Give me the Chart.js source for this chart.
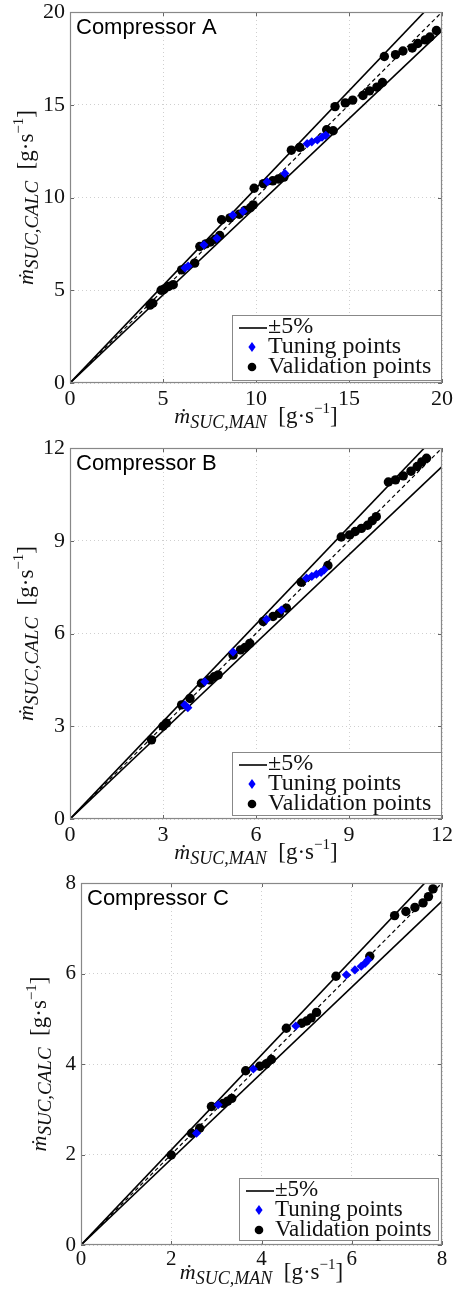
<!DOCTYPE html>
<html>
<head>
<meta charset="utf-8">
<script src="https://cdn.jsdelivr.net/npm/chart.js@4.4.0/dist/chart.umd.min.js"></script>
<style>
  html, body { margin: 0; padding: 0; background: #fff; }
  #wrap { position: relative; width: 453px; height: 1292px; overflow: hidden; }
  canvas { position: absolute; left: 0; }
</style>
</head>
<body>
<div id="wrap">
  <canvas id="chartA" width="453" height="440" style="top:0"></canvas>
  <canvas id="chartB" width="453" height="445" style="top:430px"></canvas>
  <canvas id="chartC" width="453" height="430" style="top:862px"></canvas>
</div>
<script>
// Compressor A  (measured vs calculated suction mass flow, g/s)
const valAx = [4.3, 4.45, 4.9, 5.05, 5.3, 5.55, 6.0, 6.7, 6.98, 7.3, 7.55, 7.8, 8.05, 8.15, 8.6, 9.1, 9.4, 9.7, 9.85, 9.9, 10.4, 10.9, 11.2, 11.5, 11.9, 12.35, 13.8, 14.15, 14.25, 14.8, 15.2, 15.75, 16.1, 16.5, 16.8, 16.9, 17.5, 17.9, 18.4, 18.7, 19.1, 19.35, 19.7];
const valAy = [4.2, 4.3, 5.0, 5.05, 5.2, 5.3, 6.1, 6.46, 7.36, 7.5, 7.6, 7.75, 7.95, 8.8, 8.9, 9.1, 9.3, 9.45, 9.6, 10.5, 10.75, 10.9, 11.0, 11.1, 12.55, 12.7, 13.65, 13.6, 14.9, 15.1, 15.25, 15.5, 15.75, 15.95, 16.2, 17.6, 17.7, 17.9, 18.06, 18.3, 18.5, 18.65, 19.0];
const tunAx = [6.18, 6.35, 7.2, 7.9, 8.75, 9.3, 10.6, 11.55, 12.75, 13.0, 13.3, 13.55, 13.75];
const tunAy = [6.2, 6.3, 7.45, 7.8, 9.05, 9.25, 10.85, 11.3, 12.9, 13.0, 13.1, 13.25, 13.35];

// Compressor B
const valBx = [2.63, 3.0, 3.11, 3.6, 3.87, 4.24, 4.5, 4.65, 4.78, 5.26, 5.5, 5.65, 5.8, 6.23, 6.55, 6.75, 6.98, 7.46, 8.32, 8.75, 9.02, 9.2, 9.4, 9.6, 9.75, 9.88, 10.27, 10.5, 10.75, 11.0, 11.2, 11.35, 11.5];
const valBy = [2.56, 3.0, 3.1, 3.69, 3.9, 4.39, 4.5, 4.6, 4.66, 5.3, 5.47, 5.55, 5.68, 6.39, 6.55, 6.65, 6.82, 7.66, 8.2, 9.12, 9.19, 9.3, 9.4, 9.5, 9.65, 9.78, 10.9, 10.97, 11.1, 11.25, 11.4, 11.55, 11.67];
const tunBx = [3.7, 3.8, 4.35, 5.26, 6.34, 6.82, 7.63, 7.8, 7.95, 8.1, 8.2];
const tunBy = [3.69, 3.6, 4.44, 5.4, 6.46, 6.76, 7.79, 7.85, 7.92, 7.98, 8.06];

// Compressor C
const valCx = [2.0, 2.45, 2.63, 2.89, 3.15, 3.25, 3.34, 3.65, 3.96, 4.1, 4.22, 4.55, 4.89, 5.0, 5.1, 5.22, 5.65, 6.4, 6.95, 7.2, 7.4, 7.58, 7.7, 7.8];
const valCy = [1.99, 2.47, 2.58, 3.06, 3.13, 3.18, 3.24, 3.85, 3.95, 4.0, 4.1, 4.79, 4.9, 4.95, 5.02, 5.14, 5.94, 6.38, 7.28, 7.37, 7.46, 7.56, 7.7, 7.87];
const tunCx = [2.56, 3.04, 3.82, 4.76, 5.88, 6.07, 6.21, 6.3, 6.36];
const tunCy = [2.47, 3.1, 3.89, 4.84, 5.97, 6.08, 6.16, 6.23, 6.3];

// axis ranges / tick steps
const axisMax = {A: 20, B: 12, C: 8};
const tickStep = {A: 5, B: 3, C: 2};
const band = 0.05; // +-5% lines

const SERIF = '"Liberation Serif", "DejaVu Serif", serif';
const SANS = '"Liberation Sans", Arial, sans-serif';

function pts(xs, ys) {
  return xs.map((x, i) => ({x: x, y: ys[i]}));
}

// draw  m-dot_{sub} [g.s^-1]  centred on (0,0) of current transform
function mathLabel(ctx, sub, subSize) {
  const parts = [
    {t: '\u1E41', f: 'italic 22px ' + SERIF, dy: 0},
    {t: sub, f: 'italic ' + subSize + 'px ' + SERIF, dy: 5},
    {t: '  [g\u00B7s', f: '23px ' + SERIF, dy: 0},
    {t: '\u22121', f: '15px ' + SERIF, dy: -10},
    {t: ']', f: '23px ' + SERIF, dy: 0}
  ];
  let w = 0;
  parts.forEach(p => { ctx.font = p.f; p.w = ctx.measureText(p.t).width; w += p.w; });
  let x = -w / 2;
  ctx.fillStyle = '#111';
  ctx.textBaseline = 'alphabetic';
  ctx.textAlign = 'left';
  parts.forEach(p => { ctx.font = p.f; ctx.fillText(p.t, x, p.dy); x += p.w; });
}

const decorPlugin = {
  id: 'decor',
  afterDraw(chart) {
    const o = chart.options.plugins.decor;
    const {ctx, chartArea: a} = chart;
    const xs = chart.scales.x, ys = chart.scales.y;
    ctx.save();

    // small inward tick marks on all four sides
    ctx.strokeStyle = '#666';
    ctx.lineWidth = 1;
    ctx.beginPath();
    xs.ticks.forEach(t => {
      const px = Math.round(xs.getPixelForValue(t.value)) + 0.5;
      ctx.moveTo(px, a.bottom); ctx.lineTo(px, a.bottom - 4);
      ctx.moveTo(px, a.top); ctx.lineTo(px, a.top + 4);
    });
    ys.ticks.forEach(t => {
      const py = Math.round(ys.getPixelForValue(t.value)) + 0.5;
      ctx.moveTo(a.left, py); ctx.lineTo(a.left + 4, py);
      ctx.moveTo(a.right, py); ctx.lineTo(a.right - 4, py);
    });
    ctx.stroke();

    // box
    ctx.strokeStyle = '#888';
    ctx.lineWidth = 1.2;
    ctx.strokeRect(a.left + 0.5, a.top + 0.5, a.width - 1, a.height - 1);

    // panel name
    ctx.fillStyle = '#000';
    ctx.font = '22px ' + SANS;
    ctx.textAlign = 'left';
    ctx.textBaseline = 'alphabetic';
    ctx.fillText(o.name, a.left + 6, a.top + 22);

    // legend
    const L = o.legend;
    const bx = a.right - L.dr - L.w, by = a.bottom - L.db - L.h;
    ctx.fillStyle = '#fff';
    ctx.fillRect(bx, by, L.w, L.h);
    ctx.strokeStyle = '#888';
    ctx.lineWidth = 1;
    ctx.strokeRect(bx + 0.5, by + 0.5, L.w, L.h);
    const rows = [by + 18, by + 38, by + 58];
    ctx.strokeStyle = '#000';
    ctx.lineWidth = 1.6;
    ctx.beginPath();
    ctx.moveTo(bx + 7, rows[0] - 5); ctx.lineTo(bx + 35, rows[0] - 5);
    ctx.stroke();
    ctx.fillStyle = '#0000ff';
    const dx = bx + 20, dyy = rows[1] - 6;
    ctx.beginPath();
    ctx.moveTo(dx, dyy - 5); ctx.lineTo(dx + 3.6, dyy); ctx.lineTo(dx, dyy + 5); ctx.lineTo(dx - 3.6, dyy);
    ctx.closePath(); ctx.fill();
    ctx.fillStyle = '#000';
    ctx.beginPath();
    ctx.arc(bx + 20, rows[2] - 6, 4.3, 0, Math.PI * 2);
    ctx.fill();
    ctx.font = L.font + 'px ' + SERIF;
    ctx.fillStyle = '#111';
    ctx.fillText('\u00B15%', bx + 36, rows[0]);
    ctx.fillText('Tuning points', bx + 36, rows[1]);
    ctx.fillText('Validation points', bx + 36, rows[2]);

    // x axis title
    ctx.save();
    ctx.translate((a.left + a.right) / 2, a.bottom + o.xTitle);
    mathLabel(ctx, 'SUC,MAN', 18);
    ctx.restore();

    // y axis title
    ctx.save();
    ctx.translate(o.yTitle, (a.top + a.bottom) / 2);
    ctx.rotate(-Math.PI / 2);
    mathLabel(ctx, 'SUC,CALC', 19);
    ctx.restore();

    ctx.restore();
  }
};

function makeChart(id, key, valX, valY, tunX, tunY, geo) {
  const max = axisMax[key];
  const h = document.getElementById(id).height;
  return new Chart(document.getElementById(id), {
    type: 'scatter',
    data: {
      datasets: [
        {
          label: 'Tuning points',
          data: pts(tunX, tunY),
          pointStyle: 'rectRot',
          pointRadius: 4.6,
          backgroundColor: '#0000ff',
          borderColor: '#0000ff',
          borderWidth: 0
        },
        {
          label: 'Validation points',
          data: pts(valX, valY),
          pointStyle: 'circle',
          pointRadius: 4.7,
          backgroundColor: '#000',
          borderColor: '#000',
          borderWidth: 0
        },
        {
          label: 'x',
          data: [{x: 0, y: 0}, {x: max, y: max}],
          showLine: true,
          pointRadius: 0,
          borderColor: '#000',
          borderWidth: 1.2,
          borderDash: [4, 3]
        },
        {
          label: '+5%',
          data: [{x: 0, y: 0}, {x: max, y: max * (1 + band)}],
          showLine: true,
          pointRadius: 0,
          borderColor: '#000',
          borderWidth: 1.6
        },
        {
          label: '-5%',
          data: [{x: 0, y: 0}, {x: max, y: max * (1 - band)}],
          showLine: true,
          pointRadius: 0,
          borderColor: '#000',
          borderWidth: 1.6
        }
      ]
    },
    options: {
      responsive: false,
      animation: false,
      events: [],
      layout: { padding: { left: 0, top: geo.top, right: 453 - geo.right, bottom: 0 } },
      plugins: {
        legend: { display: false },
        tooltip: { enabled: false },
        decor: { name: geo.name, legend: geo.legend, xTitle: geo.xTitle, yTitle: geo.yTitle }
      },
      scales: {
        x: {
          type: 'linear',
          min: 0, max: max,
          grid: { color: '#cfcfcf', lineWidth: 1, drawTicks: false },
          border: { display: false, dash: [1, 3] },
          ticks: {
            stepSize: tickStep[key],
            padding: geo.tickPad,
            color: '#111',
            maxRotation: 0,
            font: { family: SERIF, size: geo.tickFont }
          },
          afterFit(s) { s.height = h - geo.bottom; s.paddingLeft = 0; s.paddingRight = 0; }
        },
        y: {
          type: 'linear',
          min: 0, max: max,
          grid: { color: '#cfcfcf', lineWidth: 1, drawTicks: false },
          border: { display: false, dash: [1, 3] },
          ticks: {
            stepSize: tickStep[key],
            padding: 5,
            color: '#111',
            font: { family: SERIF, size: geo.tickFont }
          },
          afterFit(s) { s.width = geo.left; s.paddingTop = 0; s.paddingBottom = 0; }
        }
      }
    },
    plugins: [decorPlugin]
  });
}

makeChart('chartA', 'A', valAx, valAy, tunAx, tunAy, {
  name: 'Compressor A', left: 70, right: 442, top: 12, bottom: 383,
  xTitle: 40, yTitle: 33, tickFont: 22, tickPad: 3,
  legend: { w: 209, h: 65, dr: 1, db: 3, font: 24 }
});
makeChart('chartB', 'B', valBx, valBy, tunBx, tunBy, {
  name: 'Compressor B', left: 70, right: 442, top: 18, bottom: 389,
  xTitle: 40, yTitle: 33, tickFont: 22, tickPad: 3,
  legend: { w: 209, h: 63, dr: 1, db: 4, font: 24 }
});
makeChart('chartC', 'C', valCx, valCy, tunCx, tunCy, {
  name: 'Compressor C', left: 81, right: 442, top: 21, bottom: 383,
  xTitle: 34, yTitle: 46, tickFont: 21, tickPad: 2,
  legend: { w: 199, h: 62, dr: 4, db: 5, font: 23 }
});
</script>
</body>
</html>
